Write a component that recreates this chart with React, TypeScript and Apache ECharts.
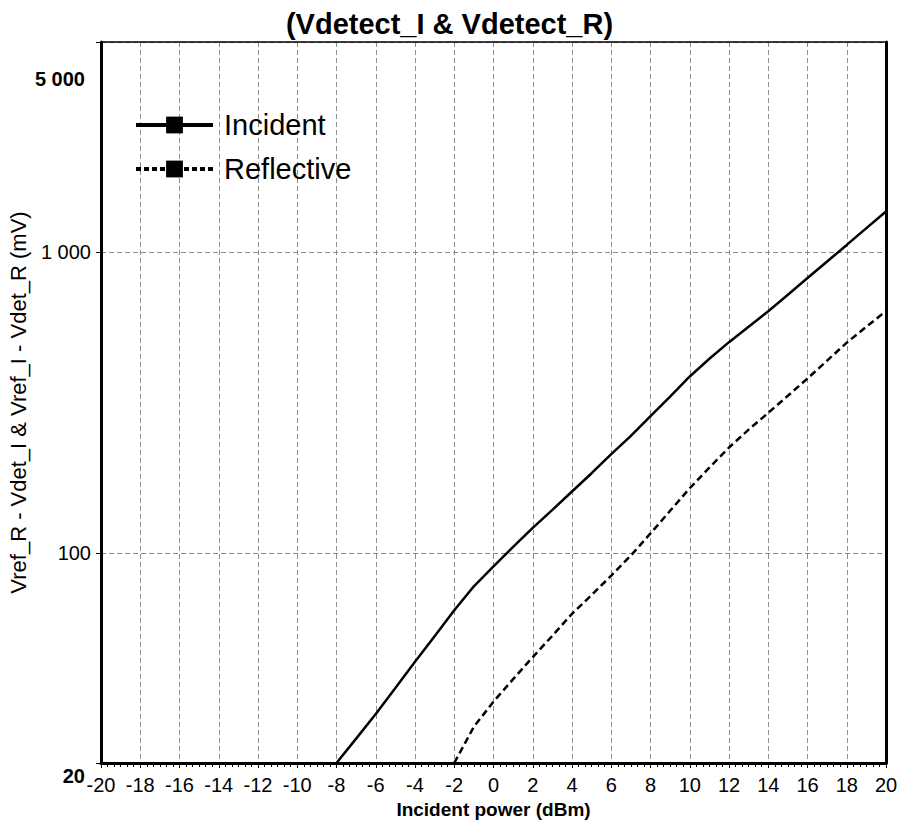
import React, { useEffect, useRef } from "react";
import * as echarts from "echarts";

const FONT = "'Liberation Sans', Arial, sans-serif";

// Incident power (dBm) and measured voltages (mV)
const incidentPower = [-8, -7, -6, -5, -4, -3, -2, -1, 0, 1, 2, 3, 4, 5, 6, 7, 8, 9, 10, 11, 12, 13, 14, 15, 16, 17, 18, 19, 20];
const incidentMv = [20, 24.1, 29.1, 35.5, 43.4, 52.8, 64.4, 77.4, 90.2, 104.6, 121, 139, 160, 184, 213, 245, 285, 331, 386, 442, 502, 565, 636, 722, 820, 931, 1057, 1202, 1365];

const reflectivePower = [-2, -1, 0, 1, 2, 3, 4, 5, 6, 7, 8, 9, 10, 11, 12, 13, 14, 15, 16, 17, 18, 19, 20];
const reflectiveMv = [20, 26.4, 32, 38, 45, 53, 62.7, 72.4, 84, 98, 116, 138, 164, 192, 224, 257, 292, 333, 380, 436, 500, 565, 637];

const seriesNames = ["Incident", "Reflective"];
const xMin = -20;
const xMax = 20;
const xStep = 2;
const yMin = 20;
const yMax = 5000;

function spaced(r: number): string {
  return String(r).replace(/\B(?=(\d{3})+(?!\d))/g, " ");
}

// regular labels (decades)
function fmtY(v: number): string {
  const r = Math.round(v);
  if (r === yMax || r === yMin) return "";
  return spaced(r);
}

// bold end labels (min / max)
function fmtYEnds(v: number): string {
  const r = Math.round(v);
  if (r === yMax) return "{top|" + spaced(r) + "}";
  if (r === yMin) return "{bot|" + spaced(r) + "}";
  return "";
}

export default function App() {
  const ref = useRef<HTMLDivElement>(null);
  useEffect(() => {
    document.body.style.margin = "0";
    if (!ref.current) return;
    const chart = echarts.init(ref.current, null, { renderer: "svg" });
    const gridColor = "#8c8c8c";
    const option: any = {
      animation: false,
      backgroundColor: "#ffffff",
      textStyle: { fontFamily: FONT },
      title: {
        text: "(Vdetect_I & Vdetect_R)",
        left: "center",
        top: 4,
        textStyle: { fontFamily: FONT, fontSize: 29, fontWeight: "bold", color: "#000" },
      },
      legend: {
        orient: "vertical",
        left: 129,
        top: 105,
        itemWidth: 77,
        itemHeight: 21,
        itemGap: 14,
        textStyle: { fontFamily: FONT, fontSize: 29, color: "#000", lineHeight: 30, padding: [0, 0, 0, 6] },
        data: [
          { name: seriesNames[0], lineStyle: { width: 4, type: "solid", color: "#000" }, itemStyle: { color: "#000" } },
          { name: seriesNames[1], lineStyle: { width: 4, type: [5, 3], color: "#000" }, itemStyle: { color: "#000" } },
        ],
      },
      grid: { left: 101, right: 13, top: 42, bottom: 62, containLabel: false, outerBoundsMode: "none" },
      xAxis: [
        {
          type: "value",
          min: xMin,
          max: xMax,
          interval: xStep,
          position: "bottom",
          name: "Incident power (dBm)",
          nameLocation: "middle",
          nameGap: 28,
          nameTextStyle: { fontFamily: FONT, fontSize: 19, fontWeight: "bold", color: "#000" },
          axisLine: { show: true, onZero: false, lineStyle: { color: "#000", width: 3 } },
          axisTick: { show: true, length: 5, lineStyle: { color: "#000", width: 1 } },
          minorTick: { show: true, splitNumber: 6, length: 4, lineStyle: { color: "#000", width: 1 } },
          axisLabel: { interval: 0, margin: 12, fontFamily: FONT, fontSize: 20, color: "#000" },
          splitLine: { show: true, lineStyle: { color: gridColor, width: 1, type: [5, 3] } },
          minorSplitLine: { show: false },
        },
        {
          type: "value",
          min: xMin,
          max: xMax,
          position: "top",
          axisLine: { show: true, onZero: false, lineStyle: { color: "#000", width: 1.5 } },
          axisTick: { show: false },
          axisLabel: { show: false },
          splitLine: { show: false },
        },
      ],
      yAxis: [
        {
          type: "log",
          logBase: 10,
          min: yMin,
          max: yMax,
          position: "left",
          name: "Vref_R - Vdet_I & Vref_I - Vdet_R (mV)",
          nameLocation: "middle",
          nameRotate: 90,
          nameGap: 72,
          nameTextStyle: { fontFamily: FONT, fontSize: 22, color: "#000" },
          axisLine: { show: true, onZero: false, lineStyle: { color: "#000", width: 3 } },
          axisTick: { show: true, length: 5, lineStyle: { color: "#000", width: 1 } },
          axisLabel: { fontFamily: FONT, fontSize: 20, color: "#000", margin: 10, formatter: fmtY },
          splitLine: { show: true, lineStyle: { color: gridColor, width: 1, type: [5, 3] } },
        },
        {
          type: "log",
          logBase: 10,
          min: yMin,
          max: yMax,
          position: "right",
          axisLine: { show: true, onZero: false, lineStyle: { color: "#000", width: 3 } },
          axisTick: { show: false },
          axisLabel: { show: false },
          splitLine: { show: false },
        },
        {
          type: "log",
          logBase: 10,
          min: yMin,
          max: yMax,
          position: "left",
          axisLine: { show: false, onZero: false },
          axisTick: { show: false },
          splitLine: { show: false },
          axisLabel: {
            fontFamily: FONT,
            fontSize: 20,
            color: "#000",
            margin: 16,
            formatter: fmtYEnds,
            rich: {
              top: { fontFamily: FONT, fontSize: 20, fontWeight: "bold", color: "#000", padding: [74, 0, 0, 0] },
              bot: { fontFamily: FONT, fontSize: 20, fontWeight: "bold", color: "#000", padding: [26, 0, 0, 0] },
            },
          },
        },
      ],
      series: [
        {
          name: seriesNames[0],
          type: "line",
          xAxisIndex: 0,
          yAxisIndex: 0,
          data: incidentPower.map((x, i) => [x, incidentMv[i]]),
          symbol: "rect",
          showSymbol: false,
          lineStyle: { color: "#000", width: 2.5, type: "solid" },
          itemStyle: { color: "#000" },
        },
        {
          name: seriesNames[1],
          type: "line",
          xAxisIndex: 0,
          yAxisIndex: 0,
          data: reflectivePower.map((x, i) => [x, reflectiveMv[i]]),
          symbol: "rect",
          showSymbol: false,
          lineStyle: { color: "#000", width: 2.5, type: [7, 4] },
          itemStyle: { color: "#000" },
        },
      ],
    };
    chart.setOption(option);
    return () => chart.dispose();
  }, []);
  return <div ref={ref} style={{ width: 899, height: 825 }} />;
}
